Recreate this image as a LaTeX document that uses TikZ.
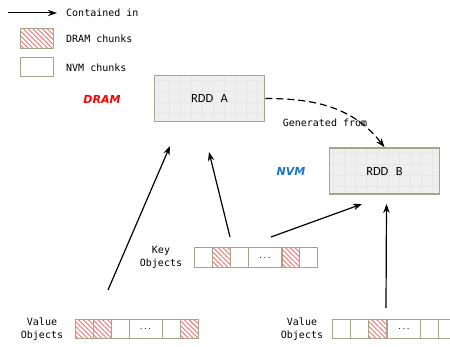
\documentclass[tikz,border=0pt]{standalone}
\usepackage{fontspec}
\setmainfont{DejaVu Sans Mono}
\newfontfamily\labfont{DejaVu Sans}
\newfontfamily\rddfont{Carlito}
\usetikzlibrary{arrows.meta,patterns.meta}
\definecolor{boxc}{HTML}{A5A588}
\definecolor{rddfill}{HTML}{EFEFEF}
\definecolor{gridc}{HTML}{E6E6E6}
\definecolor{hatchc}{HTML}{F07070}
\definecolor{dramred}{HTML}{FF0000}
\definecolor{nvmblue}{HTML}{1874CD}
\tikzset{
  chunk/.style={draw=boxc, line width=1pt, fill=white, minimum width=18pt, minimum height=19.5pt, inner sep=0pt, font=\fontsize{7}{8}\selectfont},
  dramchunk/.style={chunk, pattern={Lines[angle=-45, distance=3.4pt, line width=0.9pt]}, pattern color=hatchc},
  rdd/.style={draw=boxc, line width=1.6pt, fill=rddfill, minimum width=110pt, minimum height=46pt, inner sep=0pt,
    font=\rddfont\fontsize{12.5}{14}\selectfont,
    path picture={\draw[gridc, line width=0.4pt] ([shift={(-1pt,1pt)}]path picture bounding box.south west) grid[step=11pt] (path picture bounding box.north east);}},
  mono/.style={font=\fontsize{10}{12.8}\selectfont, inner sep=0pt},
  arr/.style={-{Stealth[length=9pt,width=6.5pt]}, line width=1.2pt},
  memlab/.style={font=\labfont\bfseries\itshape\fontsize{11}{13}\selectfont, inner sep=0pt},
}
\begin{document}
\begin{tikzpicture}[x=1pt,y=-1pt]
\clip (0,0) rectangle (450,347);
\fill[white] (0,0) rectangle (450,347);

% legend
\coordinate (lg1) at (8,13);
\coordinate (lg2) at (57,13);
\draw[-{Stealth[length=9pt,width=6pt]}, line width=1pt] (lg1) -- (lg2);
\node[mono, anchor=west] (lgt1) at (66,13) {Contained in};
\node[dramchunk, minimum width=33pt, minimum height=20pt] (lgd) at (36.5,38.5) {};
\node[mono, anchor=west] (lgt2) at (66,39) {DRAM chunks};
\node[chunk, minimum width=33pt, minimum height=19pt] (lgn) at (36.5,67) {};
\node[mono, anchor=west] (lgt3) at (66,68) {NVM chunks};

% memory labels
\node[memlab, text=dramred] (dram) at (102,99) {DRAM};
\node[memlab, text=nvmblue] (nvm) at (291,171) {NVM};

% RDD boxes
\node[rdd] (A) at (209.5,98.5) {RDD\hspace{0.6em}A};
\node[rdd] (B) at (384.5,171) {RDD\hspace{0.6em}B};

\draw[-{Stealth[length=9pt,width=6.5pt]}, line width=1.2pt, dash pattern=on 7pt off 4pt]
  (A.east) to[out=0, in=128] (B.north);
\node[mono] (gen) at (325,123) {Generated from};

% key objects
\node[mono, align=center] (klab) at (161,257.5) {Key\\Objects};
\node[chunk] (k1) at (203,257.5) {};
\node[dramchunk] (k2) at (221,257.5) {};
\node[chunk] (k3) at (239,257.5) {};
\node[chunk, minimum width=34pt] (k4) at (265,257.5) {...};
\node[dramchunk] (k5) at (290.5,257.5) {};
\node[chunk] (k6) at (308,257.5) {};

% value objects left
\node[mono, align=center] (vlab1) at (42,329) {Value\\Objects};
\node[dramchunk] (v1) at (84,329) {};
\node[dramchunk] (v2) at (102,329) {};
\node[chunk] (v3) at (120,329) {};
\node[chunk, minimum width=33pt] (v4) at (145.5,329) {...};
\node[chunk] (v5) at (171,329) {};
\node[dramchunk] (v6) at (189.5,329) {};

% value objects right
\node[mono, align=center] (vlab2) at (302,329) {Value\\Objects};
\node[chunk] (w1) at (341,329) {};
\node[chunk] (w2) at (359,329) {};
\node[dramchunk] (w3) at (377.5,329) {};
\node[chunk, minimum width=34pt] (w4) at (404,329) {...};
\node[chunk] (w5) at (429.5,329) {};
\node[chunk] (w6) at (447.5,329) {};

% containment arrows
\coordinate (s1) at (108,290);
\coordinate (e1) at (170,146);
\coordinate (s2) at (230,237);
\coordinate (e2) at (209,152);
\coordinate (s3) at (271,237);
\coordinate (e3) at (362,204);
\coordinate (s4) at (386,308);
\coordinate (e4) at (386.5,204);
\draw[arr] (s1) -- (e1);
\draw[arr] (s2) -- (e2);
\draw[arr] (s3) -- (e3);
\draw[arr] (s4) -- (e4);
\end{tikzpicture}
\end{document}
